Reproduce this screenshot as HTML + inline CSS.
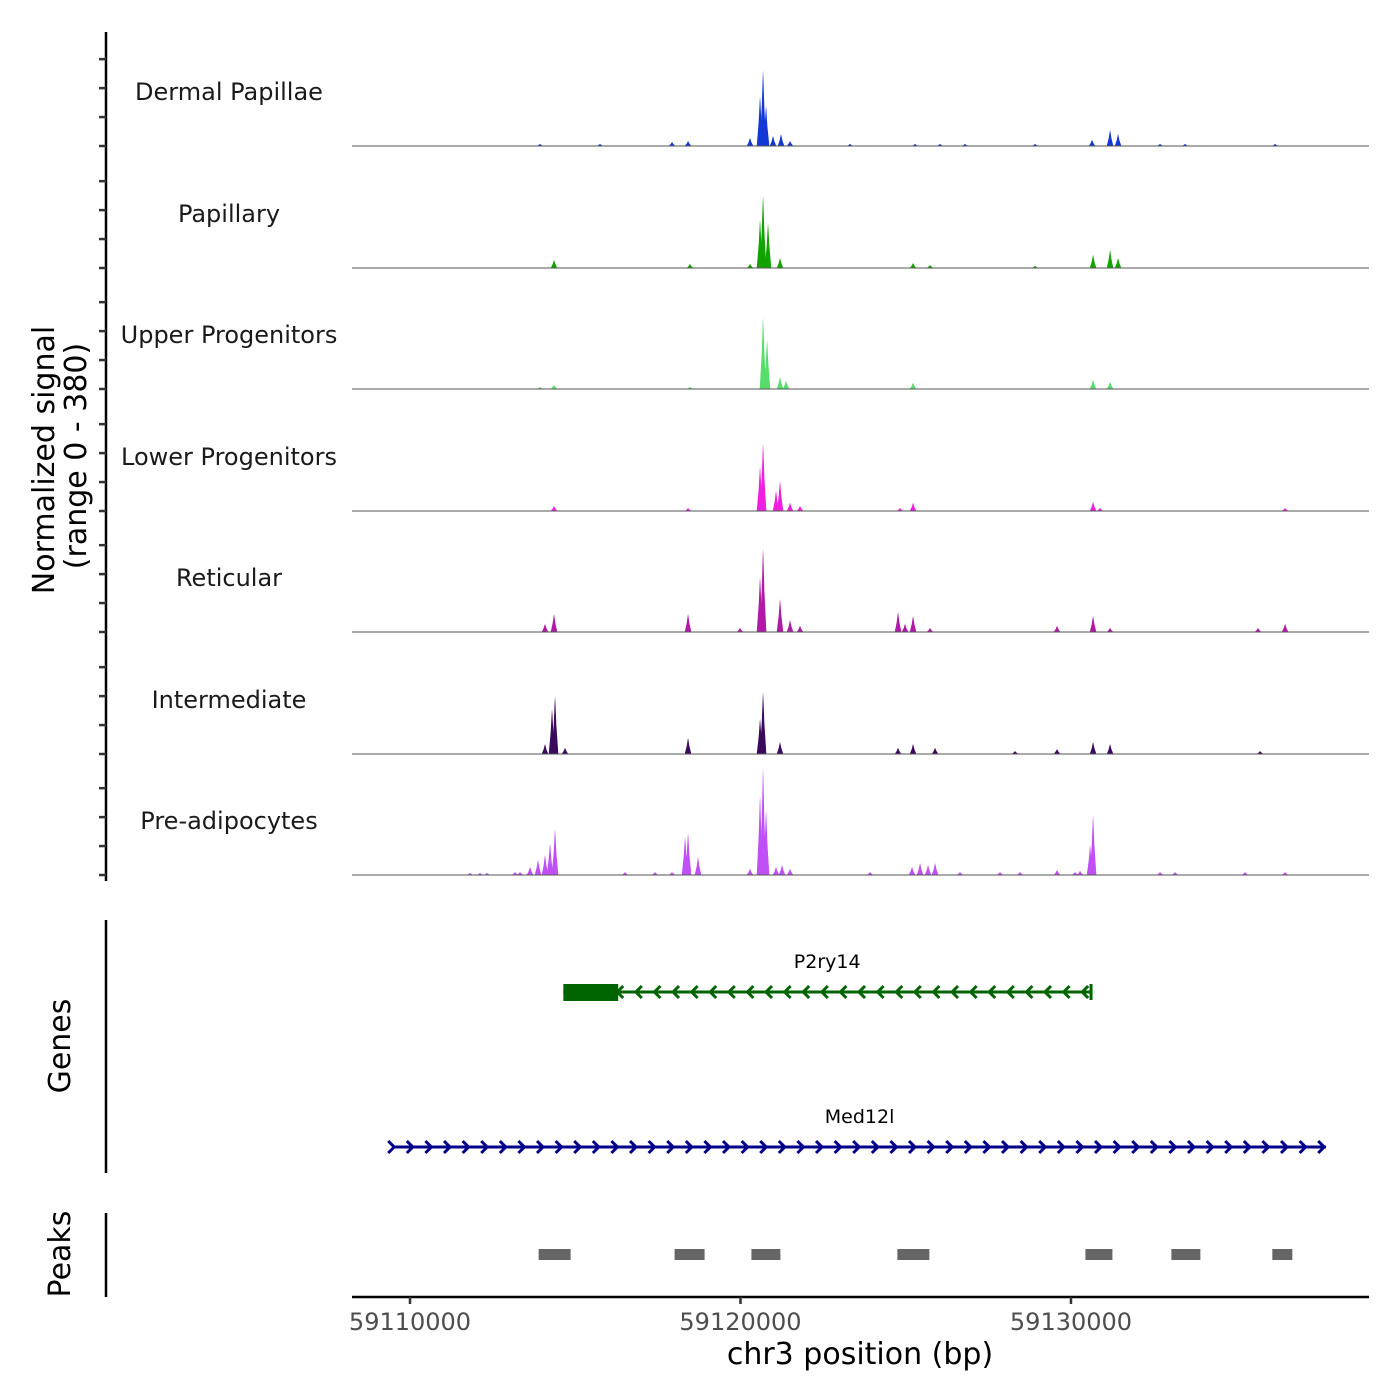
<!DOCTYPE html>
<html><head><meta charset="utf-8"><style>
html,body{margin:0;padding:0;background:#fff;}
svg{display:block;font-family:"DejaVu Sans","Liberation Sans",sans-serif;}
</style></head><body>
<svg id="chart" width="1400" height="1400" viewBox="0 0 1400 1400">
<g id="tracks"></g>
<g id="yaxis"></g>
<g id="genes"></g>
<g id="peaks"></g>
<g id="xaxis"></g>
<text transform="translate(54,460) rotate(-90)" text-anchor="middle" font-size="30" fill="#000">Normalized signal</text>
<text transform="translate(86,456) rotate(-90)" text-anchor="middle" font-size="30" fill="#000">(range 0 - 380)</text>
<text transform="translate(70,1046) rotate(-90)" text-anchor="middle" font-size="30" fill="#000">Genes</text>
<text transform="translate(70,1254) rotate(-90)" text-anchor="middle" font-size="30" fill="#000">Peaks</text>
<text x="860" y="1364" text-anchor="middle" font-size="30" fill="#000">chr3 position (bp)</text>
</svg>
<script>
const NS='http://www.w3.org/2000/svg';
const regionStart=59108245, regionEnd=59139017;
const xTicks=[59110000,59120000,59130000];
const yMax=380;
const trackNames=["Dermal Papillae","Papillary","Upper Progenitors","Lower Progenitors","Reticular","Intermediate","Pre-adipocytes"];
const trackColors=["#1238d6","#12a300","#56dd6b","#f01ee0","#b01aa6","#3a0a5e","#c050f5"];
const dermalPos=[59120682,59120591,59120773,59120288,59120984,59121226,59121499,59117928,59118413,59130637,59131182,59131424,59113934,59115749,59123314,59125281,59126038,59126794,59128913,59132695,59133452,59136175];
const dermalVal=[262,172,138,28,34,41,17,14,17,21,55,41,7,7,7,7,7,7,7,7,7,7];
const papillaryPos=[59120682,59120591,59120833,59121196,59114357,59118473,59120288,59125221,59125735,59130668,59131182,59131424,59128913];
const papillaryVal=[252,166,155,34,28,14,14,17,10,45,62,34,7];
const upperPos=[59120682,59120803,59121196,59121378,59114357,59113934,59125221,59130668,59131182,59118473];
const upperVal=[248,172,41,28,14,7,21,31,24,7];
const lowerPos=[59120682,59120591,59121196,59121075,59121499,59121801,59114357,59118413,59125221,59124827,59130668,59130879,59136478];
const lowerVal=[234,155,103,69,28,17,17,10,28,10,31,10,10];
const reticularPos=[59120682,59120591,59121196,59121499,59121801,59114357,59114085,59118413,59124767,59125221,59124979,59129578,59130668,59131182,59135660,59136478,59119986,59125735];
const reticularVal=[290,190,114,41,21,62,28,62,69,55,28,21,55,14,14,28,14,14];
const intermediatePos=[59114388,59114297,59114085,59114690,59118413,59120682,59120591,59121196,59125221,59124767,59125887,59129578,59130668,59131182,59128307,59135721];
const intermediateVal=[200,155,34,21,55,214,121,41,34,21,21,17,41,34,10,10];
const preadipoPos=[59114388,59114236,59114085,59113873,59113631,59118413,59118322,59118715,59120682,59120591,59120773,59121075,59121257,59121499,59120288,59125190,59125433,59125675,59125887,59130668,59130577,59129578,59130123,59130274,59111816,59112118,59112330,59113177,59113329,59116506,59117414,59117928,59123920,59126643,59127853,59128459,59132695,59133149,59135267,59136478];
const preadipoVal=[159,110,69,52,28,145,131,62,372,276,224,28,34,21,21,28,41,34,41,207,103,17,10,14,7,7,7,10,10,10,10,10,10,10,10,10,10,10,10,10];
const trackPos=[dermalPos,papillaryPos,upperPos,lowerPos,reticularPos,intermediatePos,preadipoPos];
const trackVal=[dermalVal,papillaryVal,upperVal,lowerVal,reticularVal,intermediateVal,preadipoVal];
const peakStarts=[59113892,59118006,59120330,59124746,59130436,59133037,59136092];
const peakEnds=[59114860,59118914,59121207,59125714,59131253,59133915,59136697];
const geneNames=["P2ry14","Med12l"];
const geneStarts=[59114640,59109492];
const geneEnds=[59130607,59137715];
const geneStrand=[-1,1];
const geneCdsStart=[59114640,null];
const geneCdsEnd=[59116300,null];
const geneColors=["#006400","#00008b"];

const X0=352,X1=1369;
const xs=v=>X0+(v-regionStart)/(regionEnd-regionStart)*(X1-X0);
const baselines=[146,268,389,511,632,754,875];
const trackH=110;
const ys=(v,b)=>b-v/yMax*trackH;
function mk(tag,attrs,parent){const e=document.createElementNS(NS,tag);for(const k in attrs)e.setAttribute(k,attrs[k]);parent.appendChild(e);return e;}

const tracksG=document.getElementById('tracks');
const half=100;
trackNames.forEach((name,i)=>{
  const b=baselines[i];
  const g=mk('g',{},tracksG);
  
  
  trackPos[i].forEach((p,j)=>{
    const v=trackVal[i][j];
    const pk=mk('polygon',{points:`${xs(p-half)},${b} ${xs(p-half*0.4)},${ys(v*0.5,b)} ${xs(p-half*0.1)},${ys(v*0.9,b)} ${xs(p)},${ys(v,b)} ${xs(p+half*0.1)},${ys(v*0.9,b)} ${xs(p+half*0.4)},${ys(v*0.5,b)} ${xs(p+half)},${b}`,fill:trackColors[i]},g);
    
    
  });
  const bl=mk('line',{x1:X0,x2:X1,y1:b,y2:b,stroke:'#555','stroke-width':1},g);
  
  
  const t=mk('text',{x:229,y:b-46,'text-anchor':'middle','font-size':24,fill:'#1a1a1a'},g);
  t.textContent=name;
  
  
});

const ya=document.getElementById('yaxis');
mk('line',{x1:106,x2:106,y1:32,y2:881,stroke:'#000','stroke-width':2.5},ya);
const yTickVals=[0,100,200,300];
baselines.forEach(b=>{yTickVals.forEach(v=>{mk('line',{x1:99,x2:106,y1:ys(v,b),y2:ys(v,b),stroke:'#333','stroke-width':2.5},ya);});});

const gg=document.getElementById('genes');
mk('line',{x1:106,x2:106,y1:920,y2:1173,stroke:'#000','stroke-width':2.5},gg);
const geneY=[992,1147];
geneNames.forEach((n,i)=>{
  const g=mk('g',{},gg);
  
  
  const y=geneY[i],c=geneColors[i];
  const a=xs(geneStarts[i]),bb=xs(geneEnds[i]);
  mk('line',{x1:a,x2:bb,y1:y,y2:y,stroke:c,'stroke-width':3},g);
  if(geneCdsStart[i]!==null){
    mk('rect',{x:xs(geneCdsStart[i]),y:y-8,width:xs(geneCdsEnd[i])-xs(geneCdsStart[i]),height:17,fill:c},g);
  }
  const s=geneStrand[i];
  const from=geneCdsEnd[i]!==null?xs(geneCdsEnd[i]):a;
  for(let x=from;x<=bb+1;x+=18.6){
    mk('polyline',{points:`${x-5*s},${y-6} ${x+1*s},${y} ${x-5*s},${y+6}`,fill:'none',stroke:c,'stroke-width':3},g);
  }
  if(s<0) mk('line',{x1:bb,x2:bb,y1:y-8,y2:y+8,stroke:c,'stroke-width':3},g);
  const t=mk('text',{x:(a+bb)/2,y:y-24,'text-anchor':'middle','font-size':19,fill:'#000'},g);
  t.textContent=n;
  
  
});

const pg=document.getElementById('peaks');
mk('line',{x1:106,x2:106,y1:1213,y2:1297,stroke:'#000','stroke-width':2.5},pg);
peakStarts.forEach((s,i)=>{
  const r=mk('rect',{x:xs(s),y:1249,width:xs(peakEnds[i])-xs(s),height:11,fill:'#666'},pg);
  
  
});

const xa=document.getElementById('xaxis');
mk('line',{x1:X0,x2:X1,y1:1297,y2:1297,stroke:'#000','stroke-width':2.5},xa);
xTicks.forEach(v=>{
  mk('line',{x1:xs(v),x2:xs(v),y1:1297,y2:1304,stroke:'#333','stroke-width':2.5},xa);
  const t=mk('text',{x:xs(v),y:1330,'text-anchor':'middle','font-size':24,fill:'#4d4d4d'},xa);
  t.textContent=v;
  
  
});
</script>
</body></html>
